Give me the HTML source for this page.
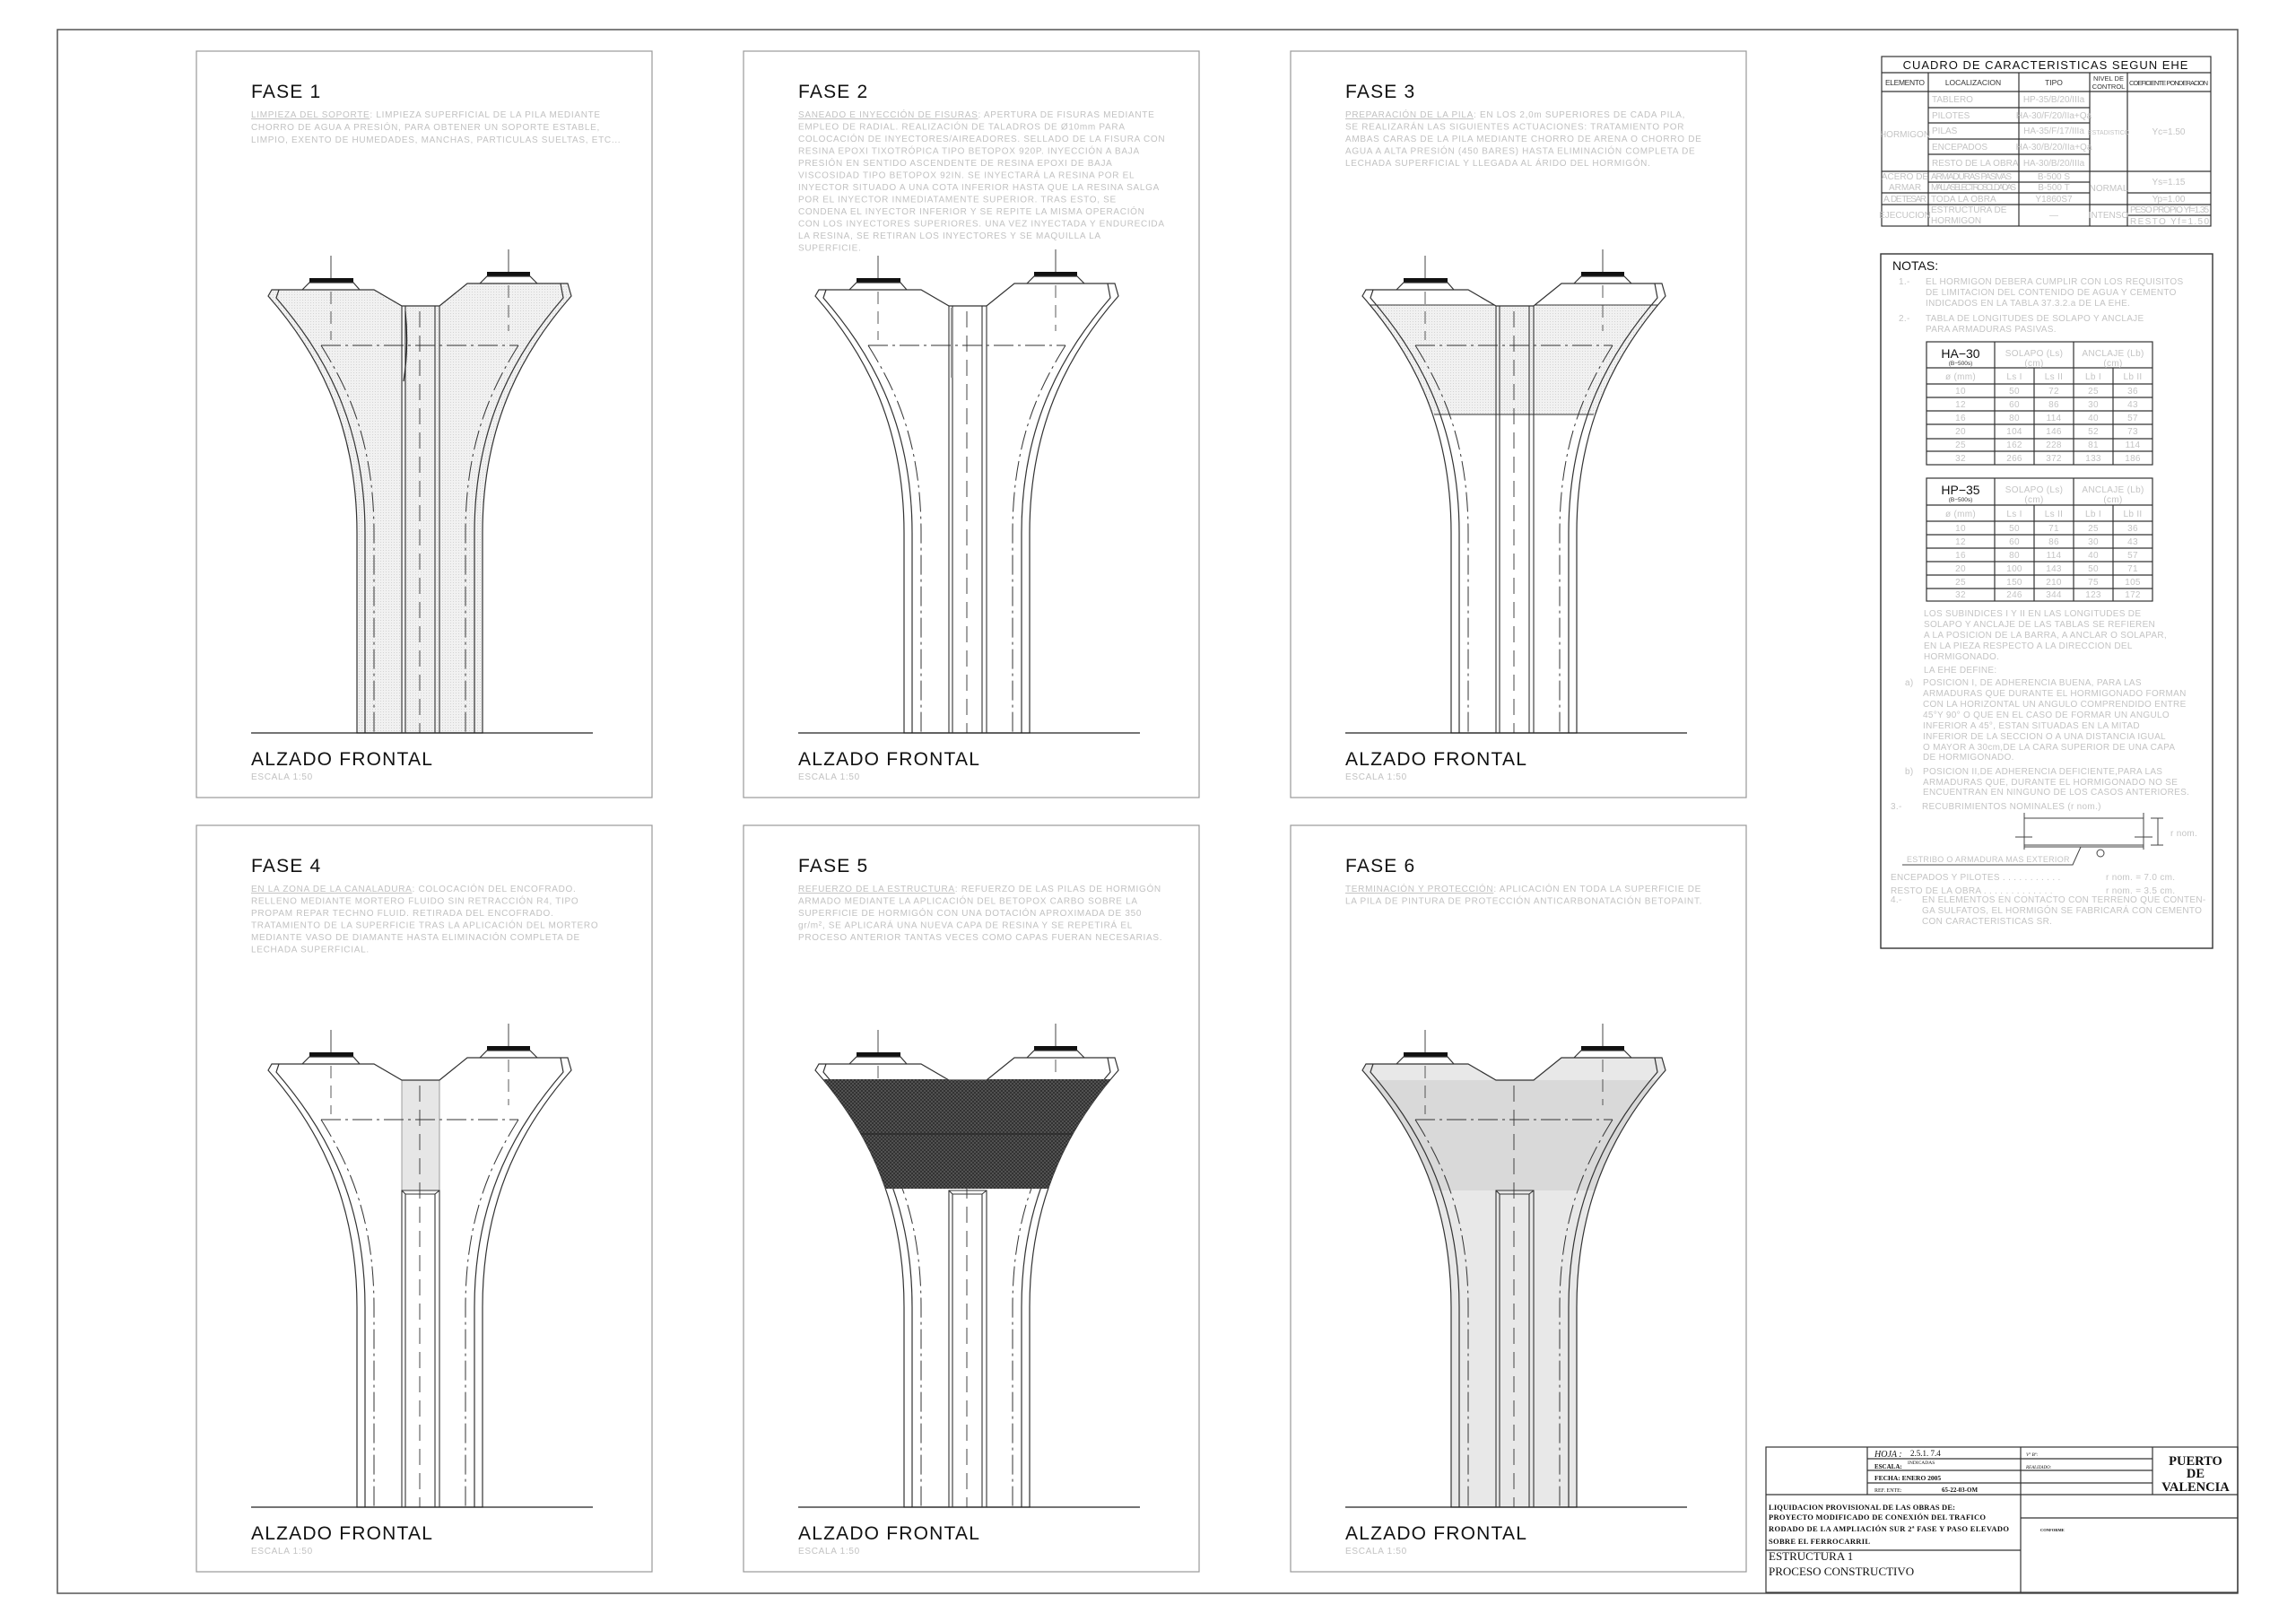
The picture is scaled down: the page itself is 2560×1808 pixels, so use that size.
<!DOCTYPE html>
<html><head><meta charset="utf-8"><style>
html,body{margin:0;padding:0;background:#fff}
svg{display:block}
text{font-family:"Liberation Sans",sans-serif}
.t{font-size:21px;fill:#111;letter-spacing:1.2px}
.d{font-size:10px;fill:#c2c2c2;letter-spacing:0.7px}
.n{font-size:10px;fill:#c4c4c4;letter-spacing:0.3px}
.s text{font-family:"Liberation Serif",serif}
</style></head><body>
<svg width="2560" height="1808" viewBox="0 0 2560 1808" xmlns="http://www.w3.org/2000/svg">
<defs>
<path id="outl" d="M84,266 L198,266 L229,284 L271,284 L302,259 L414,259 L418,273 C368,330 319,410 319,537 L319,760 L179,760 L179,537 C179,410 130,330 80,273 Z"/>
<clipPath id="cp"><use href="#outl"/></clipPath>
<pattern id="hatch" width="4" height="4" patternUnits="userSpaceOnUse">
<rect width="4" height="4" fill="#5a5a5a"/><path d="M0,4 L4,0 M0,0 L4,4" stroke="#2a2a2a" stroke-width="0.8"/></pattern>
<pattern id="dots" width="3" height="3" patternUnits="userSpaceOnUse">
<rect width="3" height="3" fill="#f1f1f1"/><rect x="1" y="1" width="1" height="1" fill="#d4d4d4"/></pattern>
<g id="lines" fill="none" stroke="#333" stroke-width="1.2">
<use href="#outl"/>
<path d="M92,266 L89,275 C138,332 188,410 188,537 L188,760"/>
<path d="M406,259 L409,275 C360,332 310,410 310,537 L310,760"/>
<path d="M139,328 L359,328 M139,328 C165,370 198,430 198,537 L198,760 M359,328 C333,370 300,430 300,537 L300,760" stroke-dasharray="22,5,3,5" stroke-width="1"/>
<path d="M249,290 L249,760" stroke-dasharray="18,9" stroke-width="0.9"/>
<path d="M150,228 L150,253 M348,221 L348,246" stroke-width="0.9"/>
<path d="M150,268 L150,322 M348,261 L348,312" stroke-dasharray="14,8" stroke-width="0.8"/>
<path d="M118,266 L126,258 L175,258 L182,266 M316,259 L324,251 L372,251 L380,259"/>
<rect x="126" y="253" width="49" height="4.5" fill="#111" stroke="none"/>
<rect x="324" y="246" width="48" height="4.5" fill="#111" stroke="none"/>
<path d="M61,760 L442,760" stroke="#222"/>
</g>
<g id="colA" fill="none" stroke="#333" stroke-width="1.1"><path d="M229,284 V760 M233,284 V760 M266,284 V760 M271,284 V760"/></g>
<g id="colB" fill="none" stroke="#333" stroke-width="1.1"><path d="M229,760 V407 H271 V760 M233,760 V411 H266 V760 M229,407 L233,411 M271,407 L266,411"/></g>
<g id="foot">
<text class="t" x="61" y="796">ALZADO  FRONTAL</text>
<text class="d" x="61" y="812">ESCALA  1:50</text>
</g>
</defs>

<rect x="64" y="33" width="2431" height="1743" fill="none" stroke="#555" stroke-width="1.5"/>

<g transform="translate(219,57)">
<rect x="0" y="0" width="508" height="832" fill="none" stroke="#999" stroke-width="1.2"/>
<text class="t" x="61" y="52">FASE  1</text>
<text class="d" x="61" y="74"><tspan text-decoration="underline">LIMPIEZA DEL SOPORTE</tspan>: LIMPIEZA SUPERFICIAL DE LA PILA MEDIANTE</text>
<text class="d" x="61" y="88">CHORRO DE AGUA A PRESIÓN, PARA OBTENER UN SOPORTE ESTABLE,</text>
<text class="d" x="61" y="102">LIMPIO, EXENTO DE HUMEDADES, MANCHAS, PARTICULAS SUELTAS, ETC...</text>
<rect x="0" y="240" width="512" height="530" fill="url(#dots)" clip-path="url(#cp)"/>
<use href="#lines"/><use href="#colA"/>
<path d="M233,290 Q237,330 231,368" fill="none" stroke="#222" stroke-width="1.2"/>
<use href="#foot"/>
</g>

<g transform="translate(829,57)">
<rect x="0" y="0" width="508" height="832" fill="none" stroke="#999" stroke-width="1.2"/>
<text class="t" x="61" y="52">FASE  2</text>
<g class="d">
<text x="61" y="74"><tspan text-decoration="underline">SANEADO E INYECCIÓN DE FISURAS</tspan>: APERTURA DE FISURAS MEDIANTE</text>
<text x="61" y="87.5">EMPLEO DE RADIAL. REALIZACIÓN DE TALADROS DE Ø10mm PARA</text>
<text x="61" y="101">COLOCACIÓN DE INYECTORES/AIREADORES. SELLADO DE LA FISURA CON</text>
<text x="61" y="114.5">RESINA EPOXI TIXOTRÓPICA TIPO BETOPOX 920P. INYECCIÓN A BAJA</text>
<text x="61" y="128">PRESIÓN EN SENTIDO ASCENDENTE DE RESINA EPOXI DE BAJA</text>
<text x="61" y="141.5">VISCOSIDAD TIPO BETOPOX 92IN. SE INYECTARÁ LA RESINA POR EL</text>
<text x="61" y="155">INYECTOR SITUADO A UNA COTA INFERIOR HASTA QUE LA RESINA SALGA</text>
<text x="61" y="168.5">POR EL INYECTOR INMEDIATAMENTE SUPERIOR. TRAS ESTO, SE</text>
<text x="61" y="182">CONDENA EL INYECTOR INFERIOR Y SE REPITE LA MISMA OPERACIÓN</text>
<text x="61" y="195.5">CON LOS INYECTORES SUPERIORES. UNA VEZ INYECTADA Y ENDURECIDA</text>
<text x="61" y="209">LA RESINA, SE RETIRAN LOS INYECTORES Y SE MAQUILLA LA</text>
<text x="61" y="222.5">SUPERFICIE.</text>
</g>
<use href="#lines"/><use href="#colA"/>
<rect x="231" y="286" width="3" height="78" fill="#999"/>
<use href="#foot"/>
</g>

<g transform="translate(1439,57)">
<rect x="0" y="0" width="508" height="832" fill="none" stroke="#999" stroke-width="1.2"/>
<text class="t" x="61" y="52">FASE  3</text>
<g class="d">
<text x="61" y="74"><tspan text-decoration="underline">PREPARACIÓN DE LA PILA</tspan>: EN LOS 2,0m SUPERIORES DE CADA PILA,</text>
<text x="61" y="87.5">SE REALIZARÁN LAS SIGUIENTES ACTUACIONES: TRATAMIENTO POR</text>
<text x="61" y="101">AMBAS CARAS DE LA PILA MEDIANTE CHORRO DE ARENA O CHORRO DE</text>
<text x="61" y="114.5">AGUA A ALTA PRESIÓN (450 BARES) HASTA ELIMINACIÓN COMPLETA DE</text>
<text x="61" y="128">LECHADA SUPERFICIAL Y LLEGADA AL ÁRIDO DEL HORMIGÓN.</text>
</g>
<rect x="0" y="283" width="512" height="122" fill="url(#dots)" clip-path="url(#cp)"/>
<path d="M85,283 L413,283 M160,405 L338,405" stroke="#333" stroke-width="1.1" clip-path="url(#cp)"/>
<use href="#lines"/><use href="#colA"/>
<use href="#foot"/>
</g>

<g transform="translate(219,920)">
<rect x="0" y="0" width="508" height="832" fill="none" stroke="#999" stroke-width="1.2"/>
<text class="t" x="61" y="52">FASE  4</text>
<g class="d">
<text x="61" y="74"><tspan text-decoration="underline">EN LA ZONA DE LA CANALADURA</tspan>: COLOCACIÓN DEL ENCOFRADO.</text>
<text x="61" y="87.5">RELLENO MEDIANTE MORTERO FLUIDO SIN RETRACCIÓN R4, TIPO</text>
<text x="61" y="101">PROPAM REPAR TECHNO FLUID. RETIRADA DEL ENCOFRADO.</text>
<text x="61" y="114.5">TRATAMIENTO DE LA SUPERFICIE TRAS LA APLICACIÓN DEL MORTERO</text>
<text x="61" y="128">MEDIANTE VASO DE DIAMANTE HASTA ELIMINACIÓN COMPLETA DE</text>
<text x="61" y="141.5">LECHADA SUPERFICIAL.</text>
</g>
<rect x="229" y="284" width="42" height="123" fill="#e6e6e6" stroke="#888" stroke-width="0.8"/>
<use href="#lines"/><use href="#colB"/>
<use href="#foot"/>
</g>

<g transform="translate(829,920)">
<rect x="0" y="0" width="508" height="832" fill="none" stroke="#999" stroke-width="1.2"/>
<text class="t" x="61" y="52">FASE  5</text>
<g class="d">
<text x="61" y="74"><tspan text-decoration="underline">REFUERZO DE LA ESTRUCTURA</tspan>: REFUERZO DE LAS PILAS DE HORMIGÓN</text>
<text x="61" y="87.5">ARMADO MEDIANTE LA APLICACIÓN DEL BETOPOX CARBO SOBRE LA</text>
<text x="61" y="101">SUPERFICIE DE HORMIGÓN CON UNA DOTACIÓN APROXIMADA DE 350</text>
<text x="61" y="114.5">gr/m², SE APLICARÁ UNA NUEVA CAPA DE RESINA Y SE REPETIRÁ EL</text>
<text x="61" y="128">PROCESO ANTERIOR TANTAS VECES COMO CAPAS FUERAN NECESARIAS.</text>
</g>
<use href="#lines"/>
<rect x="0" y="283" width="512" height="122" fill="url(#hatch)" clip-path="url(#cp)"/>
<path d="M100,344 L398,344" stroke="#222" stroke-width="1" clip-path="url(#cp)"/>
<use href="#colB"/>
<use href="#foot"/>
</g>

<g transform="translate(1439,920)">
<rect x="0" y="0" width="508" height="832" fill="none" stroke="#999" stroke-width="1.2"/>
<text class="t" x="61" y="52">FASE  6</text>
<g class="d">
<text x="61" y="74"><tspan text-decoration="underline">TERMINACIÓN Y PROTECCIÓN</tspan>: APLICACIÓN EN TODA LA SUPERFICIE DE</text>
<text x="61" y="87.5">LA PILA DE PINTURA DE PROTECCIÓN ANTICARBONATACIÓN BETOPAINT.</text>
</g>
<rect x="0" y="240" width="512" height="530" fill="#e8e8e8" clip-path="url(#cp)"/>
<rect x="0" y="284" width="512" height="123" fill="#d9d9d9" clip-path="url(#cp)"/>
<use href="#lines"/><use href="#colB"/>
<use href="#foot"/>
</g>

<g fill="none" stroke="#333" stroke-width="1.2">
<rect x="2098" y="63" width="367" height="189"/>
<path d="M2098,81 H2465 M2098,102 H2465 M2150,81 V252 M2251,81 V252 M2330,81 V252 M2372,81 V252"/>
<path d="M2150,120 H2330 M2150,137 H2330 M2150,155 H2330 M2150,172 H2330"/>
<path d="M2098,191 H2465 M2150,203 H2330 M2150,215 H2330 M2372,215 H2465 M2098,215 H2150 M2098,228 H2330 M2372,228 H2465 M2330,228 H2372 M2372,240 H2465"/>
</g>
<g font-size="8.5" fill="#333">
<text x="2281" y="77" text-anchor="middle" font-size="13" fill="#111" letter-spacing="1">CUADRO  DE  CARACTERISTICAS  SEGUN  EHE</text>
<text x="2124" y="95" text-anchor="middle" textLength="44">ELEMENTO</text>
<text x="2200" y="95" text-anchor="middle">LOCALIZACION</text>
<text x="2290" y="95" text-anchor="middle">TIPO</text>
<text x="2351" y="90" text-anchor="middle" font-size="7.5">NIVEL DE</text>
<text x="2351" y="99" text-anchor="middle" font-size="7.5">CONTROL</text>
<text x="2418" y="95" text-anchor="middle" textLength="88" font-size="7.5">COEFICIENTE PONDERACION</text>
</g>
<g class="n" font-size="8" style="letter-spacing:0">
<text x="2154" y="114">TABLERO</text><text x="2290" y="114" text-anchor="middle">HP-35/B/20/IIIa</text>
<text x="2154" y="132">PILOTES</text><text x="2290" y="132" text-anchor="middle">HA-30/F/20/IIa+Qa</text>
<text x="2154" y="149">PILAS</text><text x="2290" y="149" text-anchor="middle">HA-35/F/17/IIIa</text>
<text x="2154" y="167">ENCEPADOS</text><text x="2290" y="167" text-anchor="middle">HA-30/B/20/IIa+Qa</text>
<text x="2154" y="185">RESTO DE LA OBRA</text><text x="2290" y="185" text-anchor="middle">HA-30/B/20/IIIa</text>
<text x="2124" y="153" text-anchor="middle">HORMIGON</text>
<text x="2351" y="150" text-anchor="middle" font-size="7">ESTADISTICO</text>
<text x="2418" y="150" text-anchor="middle">Yc=1.50</text>
<text x="2124" y="200" text-anchor="middle">ACERO DE</text><text x="2124" y="212" text-anchor="middle">ARMAR</text>
<text x="2153" y="200" textLength="90">ARMADURAS PASIVAS</text><text x="2290" y="200" text-anchor="middle">B-500 S</text>
<text x="2153" y="212" textLength="95">MALLAS ELECTROSOLDADAS</text><text x="2290" y="212" text-anchor="middle">B-500 T</text>
<text x="2351" y="213" text-anchor="middle">NORMAL</text>
<text x="2418" y="206" text-anchor="middle">Ys=1.15</text>
<text x="2124" y="225" text-anchor="middle" textLength="48">A. DE TESAR</text><text x="2153" y="225">TODA LA OBRA</text>
<text x="2290" y="225" text-anchor="middle">Y1860S7</text><text x="2418" y="225" text-anchor="middle">Yp=1.00</text>
<text x="2124" y="243" text-anchor="middle">EJECUCION</text>
<text x="2153" y="237">ESTRUCTURA DE</text><text x="2153" y="249">HORMIGON</text>
<text x="2290" y="243" text-anchor="middle">—</text>
<text x="2351" y="243" text-anchor="middle">INTENSO</text>
<text x="2375" y="237" textLength="88">PESO PROPIO  Yf=1.35</text><text x="2375" y="250" textLength="88">RESTO          Yf=1.50</text>
</g>

<rect x="2097" y="283" width="370" height="774" fill="none" stroke="#333" stroke-width="1.4"/>
<text x="2110" y="301" font-size="14" fill="#111">NOTAS:</text>
<g class="n">
<text x="2117" y="317">1.-</text>
<text x="2147" y="317">EL HORMIGON DEBERA CUMPLIR CON LOS REQUISITOS</text>
<text x="2147" y="329">DE LIMITACION DEL CONTENIDO DE AGUA Y CEMENTO</text>
<text x="2147" y="341">INDICADOS EN LA TABLA 37.3.2.a DE LA EHE.</text>
<text x="2117" y="358">2.-</text>
<text x="2147" y="358">TABLA DE LONGITUDES DE SOLAPO Y ANCLAJE</text>
<text x="2147" y="370">PARA ARMADURAS PASIVAS.</text>
</g>
<g fill="none" stroke="#333" stroke-width="1.2">
<rect x="2148" y="381" width="252" height="137"/>
<path d="M2148,410 H2400 M2148,428 H2400 M2148,443 H2400 M2148,458 H2400 M2148,473 H2400 M2148,489 H2400 M2148,503 H2400 M2224,381 V518 M2312,381 V518 M2268,410 V518 M2356,410 V518"/>
<rect x="2148" y="533" width="252" height="137"/>
<path d="M2148,563 H2400 M2148,581 H2400 M2148,596 H2400 M2148,611 H2400 M2148,626 H2400 M2148,641 H2400 M2148,656 H2400 M2224,533 V670 M2312,533 V670 M2268,563 V670 M2356,563 V670"/>
</g>
<g font-size="14" fill="#111" text-anchor="middle">
<text x="2186" y="399">HA−30</text><text x="2186" y="551">HP−35</text>
</g>
<g font-size="6.5" fill="#333" text-anchor="middle">
<text x="2186" y="407">(B−500s)</text><text x="2186" y="559">(B−500s)</text>
</g>
<g class="n" text-anchor="middle">
<text x="2268" y="397">SOLAPO (Ls)</text><text x="2268" y="408">(cm)</text>
<text x="2356" y="397">ANCLAJE (Lb)</text><text x="2356" y="408">(cm)</text>
<text x="2186" y="423">ø (mm)</text><text x="2246" y="423">Ls I</text><text x="2290" y="423">Ls II</text><text x="2334" y="423">Lb I</text><text x="2378" y="423">Lb II</text>
<text x="2186" y="439">10</text><text x="2246" y="439">50</text><text x="2290" y="439">72</text><text x="2334" y="439">25</text><text x="2378" y="439">36</text>
<text x="2186" y="454">12</text><text x="2246" y="454">60</text><text x="2290" y="454">86</text><text x="2334" y="454">30</text><text x="2378" y="454">43</text>
<text x="2186" y="469">16</text><text x="2246" y="469">80</text><text x="2290" y="469">114</text><text x="2334" y="469">40</text><text x="2378" y="469">57</text>
<text x="2186" y="484">20</text><text x="2246" y="484">104</text><text x="2290" y="484">146</text><text x="2334" y="484">52</text><text x="2378" y="484">73</text>
<text x="2186" y="499">25</text><text x="2246" y="499">162</text><text x="2290" y="499">228</text><text x="2334" y="499">81</text><text x="2378" y="499">114</text>
<text x="2186" y="514">32</text><text x="2246" y="514">266</text><text x="2290" y="514">372</text><text x="2334" y="514">133</text><text x="2378" y="514">186</text>
<text x="2268" y="549">SOLAPO (Ls)</text><text x="2268" y="560">(cm)</text>
<text x="2356" y="549">ANCLAJE (Lb)</text><text x="2356" y="560">(cm)</text>
<text x="2186" y="576">ø (mm)</text><text x="2246" y="576">Ls I</text><text x="2290" y="576">Ls II</text><text x="2334" y="576">Lb I</text><text x="2378" y="576">Lb II</text>
<text x="2186" y="592">10</text><text x="2246" y="592">50</text><text x="2290" y="592">71</text><text x="2334" y="592">25</text><text x="2378" y="592">36</text>
<text x="2186" y="607">12</text><text x="2246" y="607">60</text><text x="2290" y="607">86</text><text x="2334" y="607">30</text><text x="2378" y="607">43</text>
<text x="2186" y="622">16</text><text x="2246" y="622">80</text><text x="2290" y="622">114</text><text x="2334" y="622">40</text><text x="2378" y="622">57</text>
<text x="2186" y="637">20</text><text x="2246" y="637">100</text><text x="2290" y="637">143</text><text x="2334" y="637">50</text><text x="2378" y="637">71</text>
<text x="2186" y="652">25</text><text x="2246" y="652">150</text><text x="2290" y="652">210</text><text x="2334" y="652">75</text><text x="2378" y="652">105</text>
<text x="2186" y="666">32</text><text x="2246" y="666">246</text><text x="2290" y="666">344</text><text x="2334" y="666">123</text><text x="2378" y="666">172</text>
</g>
<g class="n">
<text x="2145" y="687">LOS SUBINDICES I Y II EN LAS LONGITUDES DE</text>
<text x="2145" y="699">SOLAPO Y ANCLAJE DE LAS TABLAS SE REFIEREN</text>
<text x="2145" y="711">A LA POSICION DE LA BARRA, A ANCLAR O SOLAPAR,</text>
<text x="2145" y="723">EN LA PIEZA RESPECTO A LA DIRECCION DEL</text>
<text x="2145" y="735">HORMIGONADO.</text>
<text x="2145" y="750">LA EHE DEFINE:</text>
<text x="2124" y="764">a)</text>
<text x="2144" y="764">POSICION I, DE ADHERENCIA BUENA, PARA LAS</text>
<text x="2144" y="776">ARMADURAS QUE DURANTE EL HORMIGONADO FORMAN</text>
<text x="2144" y="788">CON LA HORIZONTAL UN ANGULO COMPRENDIDO ENTRE</text>
<text x="2144" y="800">45°Y 90° O QUE EN EL CASO DE FORMAR UN ANGULO</text>
<text x="2144" y="812">INFERIOR A 45°, ESTAN SITUADAS EN LA MITAD</text>
<text x="2144" y="824">INFERIOR DE LA SECCION O A UNA DISTANCIA IGUAL</text>
<text x="2144" y="836">O MAYOR A 30cm,DE LA CARA SUPERIOR DE UNA CAPA</text>
<text x="2144" y="847">DE HORMIGONADO.</text>
<text x="2124" y="863">b)</text>
<text x="2144" y="863">POSICION II,DE ADHERENCIA DEFICIENTE,PARA LAS</text>
<text x="2144" y="875">ARMADURAS QUE, DURANTE EL HORMIGONADO NO SE</text>
<text x="2144" y="886">ENCUENTRAN EN NINGUNO DE LOS CASOS ANTERIORES.</text>
<text x="2108" y="902">3.-</text>
<text x="2143" y="902">RECUBRIMIENTOS NOMINALES (r nom.)</text>
<text x="2420" y="932">r nom.</text>
<text x="2126" y="961" font-size="9">ESTRIBO O ARMADURA MAS EXTERIOR</text>
<text x="2108" y="981">ENCEPADOS Y PILOTES . . . . . . . . . . .</text>
<text x="2348" y="981">r nom. = 7.0 cm.</text>
<text x="2108" y="996">RESTO DE LA OBRA . . . . . . . . . . . . .</text>
<text x="2348" y="996">r nom. = 3.5 cm.</text>
<text x="2108" y="1006">4.-</text>
<text x="2143" y="1006">EN ELEMENTOS EN CONTACTO CON TERRENO QUE CONTEN-</text>
<text x="2143" y="1018">GA SULFATOS, EL HORMIGÓN SE FABRICARÁ CON CEMENTO</text>
<text x="2143" y="1030">CON CARACTERISTICAS SR.</text>
</g>
<g fill="none" stroke="#444" stroke-width="1">
<path d="M2257,912 H2390 M2257,942 H2390 M2257,944 H2390 M2257,906 V947 M2390,906 V947"/>
<path d="M2247,933 H2266 M2380,933 H2400 M2398,912 H2412 M2398,942 H2412 M2406,912 V942"/>
<circle cx="2342" cy="951" r="4"/>
<path d="M2121,964 H2311 L2320,944"/>
</g>

<g fill="none" stroke="#333" stroke-width="1.2">
<rect x="1969" y="1613" width="526" height="162"/>
<path d="M1969,1666 H2495 M2082,1613 V1666 M2253,1613 V1775 M2400,1613 V1666"/>
<path d="M2082,1626 H2400 M2082,1639 H2400 M2082,1653 H2400 M2253,1692 H2495 M1969,1728 H2253"/>
</g>
<g class="s" fill="#111">
<text x="2090" y="1624" font-size="10" font-style="italic">HOJA :</text>
<text x="2130" y="1623" font-size="9">2.5.1. 7.4</text>
<text x="2090" y="1637" font-size="7" font-weight="bold">ESCALA:</text>
<text x="2127" y="1632" font-size="5.5">INDICADAS</text>
<text x="2090" y="1650" font-size="7.5" font-weight="bold">FECHA:   ENERO 2005</text>
<text x="2090" y="1663" font-size="6">REF. ENTE:</text>
<text x="2165" y="1663" font-size="7" font-weight="bold">65-22-03-OM</text>
<text x="2259" y="1623" font-size="5.5" font-style="italic">Vº Bº:</text>
<text x="2259" y="1637" font-size="5" font-style="italic">REALIZADO:</text>
<text x="2448" y="1633" font-size="14.5" font-weight="bold" text-anchor="middle">PUERTO</text>
<text x="2448" y="1647" font-size="14.5" font-weight="bold" text-anchor="middle">DE</text>
<text x="2448" y="1662" font-size="14.5" font-weight="bold" text-anchor="middle">VALENCIA</text>
<g font-size="8.5" font-weight="bold">
<text x="1972" y="1683" textLength="208">LIQUIDACION PROVISIONAL DE LAS OBRAS DE:</text>
<text x="1972" y="1694" textLength="242">PROYECTO MODIFICADO DE CONEXIÓN DEL TRAFICO</text>
<text x="1972" y="1707" textLength="268">RODADO DE LA AMPLIACIÓN SUR 2ª FASE Y PASO ELEVADO</text>
<text x="1972" y="1721" textLength="113">SOBRE EL FERROCARRIL</text>
</g>
<text x="1972" y="1739" font-size="13">ESTRUCTURA 1</text>
<text x="1972" y="1756" font-size="13">PROCESO CONSTRUCTIVO</text>
<text x="2275" y="1707" font-size="4.5" font-weight="bold">CONFORME</text>
</g>
</svg>
</body></html>
